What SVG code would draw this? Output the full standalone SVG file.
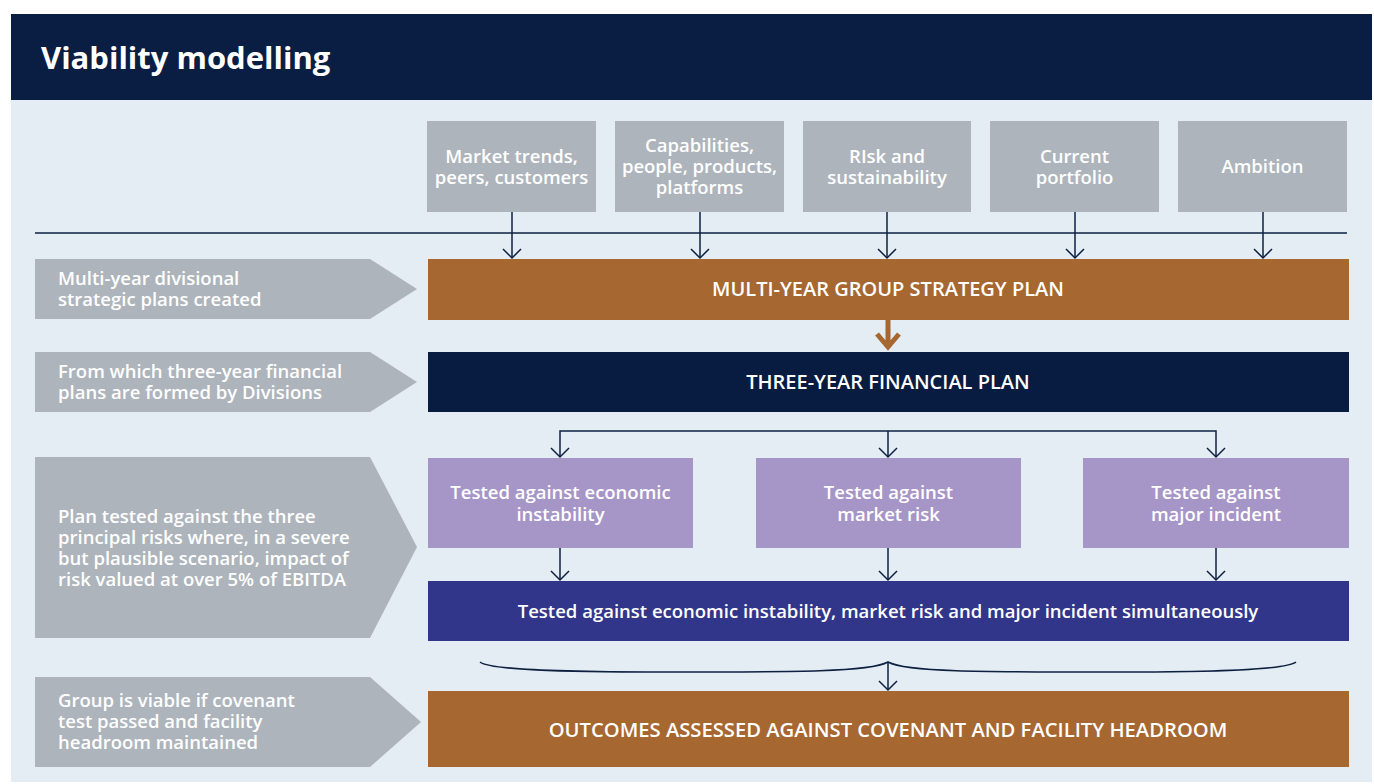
<svg xmlns="http://www.w3.org/2000/svg" width="1374" height="784" viewBox="0 0 1374 784">
<defs>
<style>
text{font-family:"Open Sans","Noto Sans","Liberation Sans",sans-serif;fill:#ffffff;font-weight:600;}
.c{text-anchor:middle;}
.t17{font-size:18.5px;}
.t18{font-size:20px;}
.gray{fill:#adb4bc;}
.line{stroke:#0d2040;stroke-width:1.5;fill:none;}
</style>
<marker id="ah" viewBox="0 0 20 20" refX="18" refY="10" markerWidth="20" markerHeight="20" markerUnits="userSpaceOnUse" orient="auto-start-reverse">
<path d="M9,1 L18,10 L9,19" fill="none" stroke="#0d2040" stroke-width="1.5"/>
</marker>
</defs>
<rect x="0" y="0" width="1374" height="784" fill="#ffffff"/>
<rect x="11" y="100" width="1361" height="682" fill="#e4ecf4"/>
<g id="header">
<rect x="11" y="14" width="1361" height="86" fill="#0a1d42"/>
<text x="41" y="69" style="font-size:31px;font-weight:700">Viability modelling</text>
</g>

<g id="in1"><rect class="gray" x="427" y="121" width="169" height="91"/>
<text class="c t17" x="511.5" y="163">Market trends,</text><text class="c t17" x="511.5" y="184">peers, customers</text></g>
<g id="in2"><rect class="gray" x="615" y="121" width="169" height="91"/>
<text class="c t17" x="699.5" y="152">Capabilities,</text><text class="c t17" x="699.5" y="173">people, products,</text><text class="c t17" x="699.5" y="194">platforms</text></g>
<g id="in3"><rect class="gray" x="803" y="121" width="168" height="91"/>
<text class="c t17" x="887" y="163">RIsk and</text><text class="c t17" x="887" y="184">sustainability</text></g>
<g id="in4"><rect class="gray" x="990" y="121" width="169" height="91"/>
<text class="c t17" x="1074.5" y="163">Current</text><text class="c t17" x="1074.5" y="184">portfolio</text></g>
<g id="in5"><rect class="gray" x="1178" y="121" width="169" height="91"/>
<text class="c t17" x="1262.5" y="173">Ambition</text></g>

<g id="l1"><polygon class="gray" points="35,259 370,259 417,289 370,319 35,319"/>
<text class="t17" x="58" y="285">Multi-year divisional</text><text class="t17" x="58" y="306">strategic plans created</text></g>
<g id="l2"><polygon class="gray" points="35,352 370,352 417,382 370,412 35,412"/>
<text class="t17" x="58" y="378">From which three-year financial</text><text class="t17" x="58" y="399">plans are formed by Divisions</text></g>
<g id="l3"><polygon class="gray" points="35,457 370,457 417,547 370,638 35,638"/>
<text class="t17" x="58" y="523">Plan tested against the three</text><text class="t17" x="58" y="544">principal risks where, in a severe</text><text class="t17" x="58" y="565">but plausible scenario, impact of</text><text class="t17" x="58" y="586">risk valued at over 5% of EBITDA</text></g>
<g id="l4"><polygon class="gray" points="35,677 370,677 421,722 370,767 35,767"/>
<text class="t17" x="58" y="707">Group is viable if covenant</text><text class="t17" x="58" y="728">test passed and facility</text><text class="t17" x="58" y="749">headroom maintained</text></g>

<g id="strategy"><rect x="428" y="259" width="921" height="61" fill="#a66731"/>
<text class="c t18" x="888" y="296">MULTI-YEAR GROUP STRATEGY PLAN</text></g>
<g id="financial"><rect x="428" y="352" width="921" height="60" fill="#081c42"/>
<text class="c t18" x="888" y="389">THREE-YEAR FINANCIAL PLAN</text></g>
<g id="p1"><rect x="428" y="458" width="265" height="90" fill="#a695c7"/>
<text class="c t17" x="560.5" y="499">Tested against economic</text><text class="c t17" x="560.5" y="521">instability</text></g>
<g id="p2"><rect x="756" y="458" width="265" height="90" fill="#a695c7"/>
<text class="c t17" x="888.5" y="499">Tested against</text><text class="c t17" x="888.5" y="521">market risk</text></g>
<g id="p3"><rect x="1083" y="458" width="266" height="90" fill="#a695c7"/>
<text class="c t17" x="1216" y="499">Tested against</text><text class="c t17" x="1216" y="521">major incident</text></g>
<g id="combined"><rect x="428" y="581" width="921" height="60" fill="#32368a"/>
<text class="c t17" x="888" y="618">Tested against economic instability, market risk and major incident simultaneously</text></g>
<g id="outcomes"><rect x="428" y="691" width="921" height="76" fill="#a66731"/>
<text class="c" x="888" y="737" style="font-size:20.2px">OUTCOMES ASSESSED AGAINST COVENANT AND FACILITY HEADROOM</text></g>

<g id="connectors">
<line class="line" x1="35" y1="233" x2="1347" y2="233"/>
<line class="line" x1="512" y1="212" x2="512" y2="258" marker-end="url(#ah)"/>
<line class="line" x1="700" y1="212" x2="700" y2="258" marker-end="url(#ah)"/>
<line class="line" x1="887" y1="212" x2="887" y2="258" marker-end="url(#ah)"/>
<line class="line" x1="1075" y1="212" x2="1075" y2="258" marker-end="url(#ah)"/>
<line class="line" x1="1263" y1="212" x2="1263" y2="258" marker-end="url(#ah)"/>
<path d="M888,320 L888,347 M877,334 L888,347 L899,334" fill="none" stroke="#a66731" stroke-width="5"/>
<path class="line" d="M560,457 L560,431 L1216,431 L1216,457" marker-start="url(#ah)" marker-end="url(#ah)"/>
<line class="line" x1="888" y1="431" x2="888" y2="457" marker-end="url(#ah)"/>
<line class="line" x1="560" y1="548" x2="560" y2="580" marker-end="url(#ah)"/>
<line class="line" x1="888" y1="548" x2="888" y2="580" marker-end="url(#ah)"/>
<line class="line" x1="1216" y1="548" x2="1216" y2="580" marker-end="url(#ah)"/>
<path class="line" d="M480,662 C490,670 560,672 660,672 C800,672 870,672 888,662 C906,672 976,672 1116,672 C1216,672 1286,670 1296,662"/>
<line class="line" x1="888" y1="662" x2="888" y2="690" marker-end="url(#ah)"/>
</g>
</svg>
